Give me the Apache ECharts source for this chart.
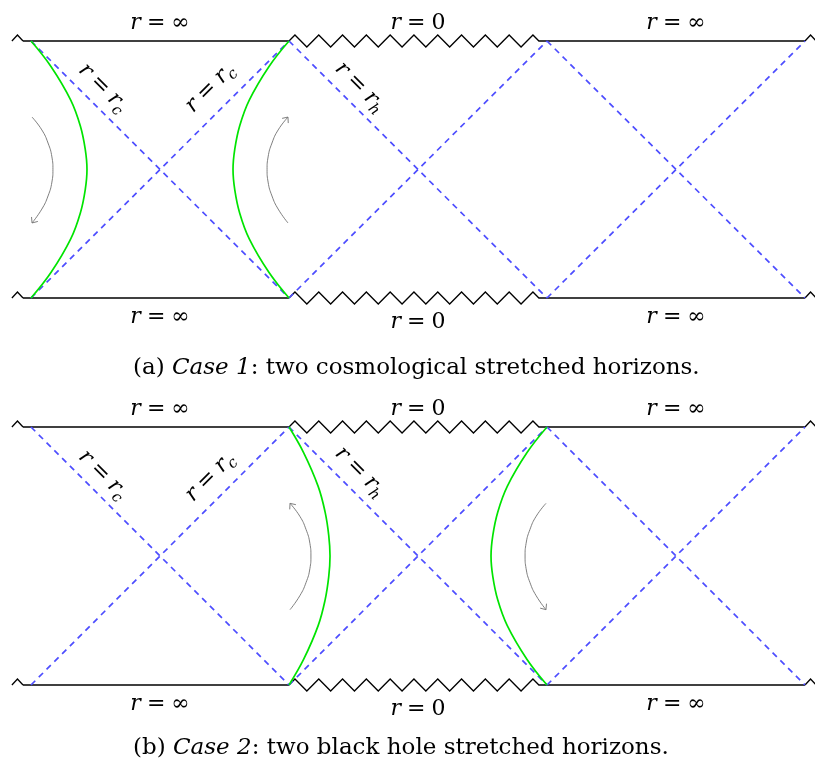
<!DOCTYPE html>
<html>
<head>
<meta charset="utf-8">
<script src="https://cdn.jsdelivr.net/npm/echarts@6/dist/echarts.min.js"></script>
<style>
html, body { margin: 0; padding: 0; background: #fff; }
#chart { width: 815px; height: 766px; }
</style>
</head>
<body>
<div id="chart"></div>
<script>
// 坐标单位：每个方块宽、高都是 1，横向三个方块 0..3
const squareXs = [0, 1, 2, 3]

// 上下边界：普通线段、奇点锯齿 r = 0、两端的小折角
const boundaryYs = [1, 0]
const plainSpans = [[-0.031, 1], [2, 3]]
const singularSpans = [[1, 2]]
const caretSpans = [[-0.074, -0.031], [3, 3.043]]

// 边界上的文字
const edgeLabelXs = [0.5, 1.5, 2.5]
const edgeLabelValues = ['∞', '0', '∞']
const topLabelYs = [1.07, 1.07, 1.07]
const bottomLabelYs = [-0.074, -0.093, -0.074]

// 沿虚线的文字 r = r_c / r_h
const slopeLabelXs = [0.279, 0.694, 1.275]
const slopeLabelYsA = [0.817, 0.817, 0.821]
const slopeLabelYsB = [0.814, 0.806, 0.826]
const slopeLabelSubs = ['c', 'c', 'h']

// 绿色 stretched horizon 曲线（离方块竖边的距离）
const curveYs = [1, 0.9, 0.77, 0.67, 0.58, 0.5, 0.42, 0.33, 0.23, 0.1, 0]
const bulgeWide = [0, 0.078, 0.154, 0.191, 0.210, 0.217, 0.210, 0.191, 0.154, 0.078, 0]
const bulgeNarrow = [0, 0.057, 0.113, 0.140, 0.154, 0.159, 0.154, 0.140, 0.113, 0.057, 0]

// 灰色箭头弧线
const arcYs = [0.704, 0.654, 0.603, 0.549, 0.5, 0.451, 0.397, 0.346, 0.292]
const arcBulge = [0.004, 0.042, 0.066, 0.081, 0.085, 0.081, 0.066, 0.042, 0.004]

// 两张图各自的曲线、箭头：base 为竖边位置，dir 为朝向
const greenCurves = [
  [{ base: 0, dir: 1, bulge: bulgeWide }, { base: 1, dir: -1, bulge: bulgeWide }],
  [{ base: 1, dir: 1, bulge: bulgeNarrow }, { base: 2, dir: -1, bulge: bulgeWide }]
]
const arrows = [
  [{ base: 0, dir: 1, up: false }, { base: 1, dir: -1, up: true }],
  [{ base: 1, dir: 1, up: true }, { base: 2, dir: -1, up: false }]
]

const captions = [
  '(a) {it|Case 1}: two cosmological stretched horizons.',
  '(b) {it|Case 2}: two black hole stretched horizons.'
]

const FONT = '"DejaVu Serif", "Liberation Serif", serif'
const BLUE = '#4d4dff'
const GREEN = '#00e400'
const GREY = '#707070'

const mathRich = {
  i: { fontFamily: FONT, fontStyle: 'italic', fontSize: 22, color: '#000', lineHeight: 28 },
  n: { fontFamily: FONT, fontSize: 22, color: '#000', lineHeight: 28 },
  o: { fontFamily: FONT, fontSize: 22, color: '#000', lineHeight: 28, padding: [0, 6, 0, 6] },
  s: { fontFamily: FONT, fontStyle: 'italic', fontSize: 15, color: '#000', lineHeight: 16, verticalAlign: 'bottom' }
}

const panels = [
  { top: 41, height: 257 },
  { top: 427, height: 258 }
]

function zigzag (a, b) {
  const q = 5.95
  const amp = 6
  const pts = [a]
  let x = a[0] + q
  let up = true
  while (x <= b[0] - q) {
    pts.push([x, up ? a[1] - amp : a[1] + amp])
    x += 2 * q
    up = !up
  }
  pts.push([pts[pts.length - 1][0] + q, a[1]])
  pts.push(b)
  return pts
}

function panelSeries (p) {
  const list = []
  const line = (points, color, width, dash, smooth) => ({
    type: 'line',
    xAxisIndex: p,
    yAxisIndex: p,
    data: points,
    symbol: 'none',
    smooth: smooth || false,
    clip: false,
    silent: true,
    animation: false,
    lineStyle: { color, width, type: dash || 'solid' }
  })

  // 虚线视界
  squareXs.slice(0, 3).forEach(x0 => {
    list.push(line([[x0, 1], [x0 + 1, 0]], BLUE, 1.7, [6, 5]))
    list.push(line([[x0, 0], [x0 + 1, 1]], BLUE, 1.7, [6, 5]))
  })

  // 绿色曲线
  greenCurves[p].forEach(c => {
    list.push(line(curveYs.map((y, k) => [c.base + c.dir * c.bulge[k], y]), GREEN, 1.7, null, 0.4))
  })

  // 灰色弧线 + 箭头
  const heads = []
  arrows[p].forEach(a => {
    let pts = arcYs.map((y, k) => [a.base + a.dir * arcBulge[k], y])
    if (a.up) pts = pts.reverse()
    list.push(line(pts, GREY, 0.9, null, 0.5))
    const tip = pts[pts.length - 1]
    const prev = pts[pts.length - 2]
    heads.push([tip[0], tip[1], prev[0], prev[1]])
  })
  list.push({
    type: 'custom',
    xAxisIndex: p,
    yAxisIndex: p,
    silent: true,
    animation: false,
    data: heads,
    renderItem (params, api) {
      const tip = api.coord([api.value(0), api.value(1)])
      const prev = api.coord([api.value(2), api.value(3)])
      const ang = Math.atan2(tip[1] - prev[1], tip[0] - prev[0])
      const len = 6
      const spread = 0.7
      const p1 = [tip[0] - len * Math.cos(ang - spread), tip[1] - len * Math.sin(ang - spread)]
      const p2 = [tip[0] - len * Math.cos(ang + spread), tip[1] - len * Math.sin(ang + spread)]
      return {
        type: 'polyline',
        shape: { points: [p1, tip, p2] },
        style: { stroke: GREY, lineWidth: 0.9, fill: null }
      }
    }
  })

  // 上下边界
  const bounds = []
  boundaryYs.forEach(y => {
    plainSpans.forEach(s => bounds.push([s[0], s[1], y, 0]))
    singularSpans.forEach(s => bounds.push([s[0], s[1], y, 1]))
    caretSpans.forEach(s => bounds.push([s[0], s[1], y, 2]))
  })
  list.push({
    type: 'custom',
    xAxisIndex: p,
    yAxisIndex: p,
    silent: true,
    animation: false,
    data: bounds,
    renderItem (params, api) {
      const a = api.coord([api.value(0), api.value(2)])
      const b = api.coord([api.value(1), api.value(2)])
      const kind = api.value(3)
      let pts
      if (kind === 0) pts = [a, b]
      else if (kind === 2) pts = [a, [(a[0] + b[0]) / 2, a[1] - 6], b]
      else pts = zigzag(a, b)
      return {
        type: 'polyline',
        shape: { points: pts },
        style: { stroke: '#000', lineWidth: 1.3, fill: null }
      }
    }
  })

  // 文字
  const labels = []
  edgeLabelXs.forEach((x, k) => {
    const text = '{i|r}{o|=}{n|' + edgeLabelValues[k] + '}'
    labels.push({ value: [x, topLabelYs[k]], name: text })
    labels.push({ value: [x, bottomLabelYs[k]], name: text })
  })
  const slopeYs = p === 0 ? slopeLabelYsA : slopeLabelYsB
  const rotations = [-45, 45, -45]
  slopeLabelXs.forEach((x, k) => {
    labels.push({
      value: [x, slopeYs[k]],
      name: '{i|r}{o|=}{i|r}{s|' + slopeLabelSubs[k] + '}',
      label: { rotate: rotations[k] }
    })
  })
  list.push({
    type: 'scatter',
    xAxisIndex: p,
    yAxisIndex: p,
    symbolSize: 0,
    clip: false,
    silent: true,
    animation: false,
    itemStyle: { opacity: 1 },
    data: labels,
    label: {
      show: true,
      position: 'inside',
      color: '#000',
      formatter: d => d.name,
      rich: mathRich
    }
  })
  return list
}

const chart = echarts.init(document.getElementById('chart'))
chart.setOption({
  backgroundColor: '#fff',
  animation: false,
  title: captions.map((text, k) => ({
    text,
    left: 133,
    top: k === 0 ? 357 : 737,
    padding: 0,
    textStyle: {
      fontFamily: FONT,
      fontSize: 23,
      fontWeight: 'normal',
      color: '#000',
      rich: {
        it: { fontFamily: FONT, fontSize: 23, fontStyle: 'italic', color: '#000' }
      }
    }
  })),
  grid: panels.map(g => ({ left: 31, width: 774, top: g.top, height: g.height })),
  xAxis: panels.map((g, k) => ({ type: 'value', gridIndex: k, min: 0, max: 3, show: false })),
  yAxis: panels.map((g, k) => ({ type: 'value', gridIndex: k, min: 0, max: 1, show: false })),
  series: [...panelSeries(0), ...panelSeries(1)]
})
</script>
</body>
</html>
